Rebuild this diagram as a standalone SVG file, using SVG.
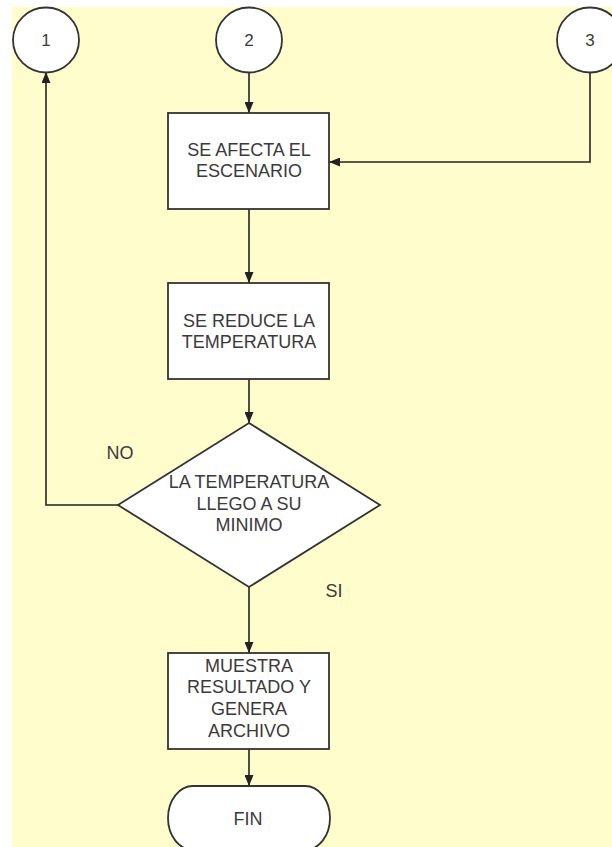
<svg xmlns="http://www.w3.org/2000/svg" width="612" height="847" viewBox="0 0 612 847">
<style>
.shape{fill:#ffffff;stroke:#333333;stroke-width:1.8}
.conn{fill:none;stroke:#222222;stroke-width:1.6}
.t{font-family:"Liberation Sans",Arial,sans-serif;font-size:18px;fill:#3a3a3a;text-anchor:middle}
.n{font-size:17px}
</style>
<defs>
<marker id="ah" markerWidth="11" markerHeight="9" refX="11" refY="4.5" orient="auto" markerUnits="userSpaceOnUse">
<path d="M0,0 L11,4.5 L0,9 Z" fill="#222222"/>
</marker>
</defs>
<rect x="0" y="0" width="612" height="847" fill="#ffffff"/>
<rect x="12" y="7" width="600" height="840" fill="#fffdcc"/>
<g id="connectors">
<path class="conn" d="M249 72 L249 113" marker-end="url(#ah)"/>
<path class="conn" d="M590 72 L590 162 L329 162" marker-end="url(#ah)"/>
<path class="conn" d="M249 209 L249 283" marker-end="url(#ah)"/>
<path class="conn" d="M249 379 L249 423" marker-end="url(#ah)"/>
<path class="conn" d="M118 505 L46 505 L46 72" marker-end="url(#ah)"/>
<path class="conn" d="M249 587 L249 653" marker-end="url(#ah)"/>
<path class="conn" d="M249 749 L249 786" marker-end="url(#ah)"/>
</g>
<g id="c1">
<ellipse class="shape" cx="46" cy="40" rx="33" ry="32.5"/>
<text class="t n" x="46" y="46">1</text>
</g>
<g id="c2">
<ellipse class="shape" cx="249" cy="40" rx="33" ry="32.5"/>
<text class="t n" x="249" y="46">2</text>
</g>
<g id="c3">
<ellipse class="shape" cx="590" cy="40" rx="33" ry="32.5"/>
<text class="t n" x="590" y="46">3</text>
</g>
<g id="afecta">
<rect class="shape" x="168" y="113" width="161" height="96"/>
<text class="t" x="249" y="156">SE AFECTA EL</text>
<text class="t" x="249" y="177">ESCENARIO</text>
</g>
<g id="reduce">
<rect class="shape" x="168" y="283" width="161" height="96"/>
<text class="t" x="249" y="327">SE REDUCE LA</text>
<text class="t" x="249" y="348">TEMPERATURA</text>
</g>
<g id="decision">
<polygon class="shape" points="249,423 380,505 249,587 118,505"/>
<text class="t" x="249" y="488">LA TEMPERATURA</text>
<text class="t" x="249" y="510">LLEGO A SU</text>
<text class="t" x="249" y="531">MINIMO</text>
</g>
<g id="labels">
<text class="t" x="120" y="459">NO</text>
<text class="t" x="334" y="597">SI</text>
</g>
<g id="muestra">
<rect class="shape" x="168" y="653" width="161" height="96"/>
<text class="t" x="249" y="672">MUESTRA</text>
<text class="t" x="249" y="693">RESULTADO Y</text>
<text class="t" x="249" y="715">GENERA</text>
<text class="t" x="249" y="737">ARCHIVO</text>
</g>
<g id="fin">
<path class="shape" d="M193 786 L305 786 A25 32 0 0 1 305 850 L193 850 A25 32 0 0 1 193 786 Z"/>
<text class="t" x="248" y="825">FIN</text>
</g>
</svg>
